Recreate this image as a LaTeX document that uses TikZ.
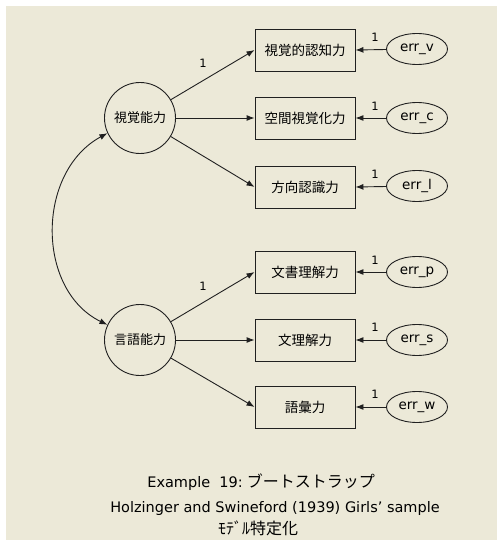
\documentclass[tikz,border=0pt]{standalone}
\usepackage{fontspec}
\setmainfont{DejaVu Sans}
\newfontfamily\jp{Noto Sans CJK JP}
\usetikzlibrary{shapes.geometric,arrows.meta}
\definecolor{bgc}{HTML}{ECE9D8}
\definecolor{ink}{HTML}{202020}
\tikzset{
  latent/.style={circle,draw=ink,line width=0.9pt,minimum size=71pt,inner sep=0pt,font=\jp\fontsize{13}{14}\selectfont},
  obs/.style={rectangle,draw=ink,line width=0.9pt,minimum width=100pt,minimum height=42pt,inner sep=0pt,font=\jp\fontsize{13.5}{14}\selectfont},
  err/.style={ellipse,draw=ink,line width=0.9pt,minimum width=61pt,minimum height=31pt,inner sep=0pt,font=\fontsize{13.5}{14}\selectfont},
  path/.style={draw=ink,line width=0.9pt,-{Latex[length=8pt,width=6pt]}},
  wt/.style={font=\fontsize{11.5}{12}\selectfont,inner sep=0pt},
  ttl/.style={font=\fontsize{14.5}{16}\selectfont,inner sep=0pt},
  ttljp/.style={font=\jp\fontsize{16}{18}\selectfont,inner sep=0pt}
}
\begin{document}
\begin{tikzpicture}[x=1pt,y=-1pt]
\fill[white] (0,0) rectangle (497,540);
\fill[bgc] (6,6) rectangle (497,540);
\useasboundingbox (0,0) rectangle (497,540);

\node[latent] (vis) at (140,118) {視覚能力};
\node[latent] (ver) at (140,340) {言語能力};

\node[obs] (o1) at (305,50) {視覚的認知力};
\node[obs] (o2) at (305,118) {空間視覚化力};
\node[obs] (o3) at (305,187) {方向認識力};
\node[obs] (o4) at (305,272) {文書理解力};
\node[obs] (o5) at (305,340) {文理解力};
\node[obs] (o6) at (305,407) {語彙力};

\node[err] (e1) at (417,49) {err\_v};
\node[err] (e2) at (417,118) {err\_c};
\node[err] (e3) at (417,186) {err\_l};
\node[err] (e4) at (417,272) {err\_p};
\node[err] (e5) at (417,340) {err\_s};
\node[err] (e6) at (417,407) {err\_w};

\foreach \o in {o1,o2,o3} \draw[path] (vis) -- (\o.west);
\foreach \o in {o4,o5,o6} \draw[path] (ver) -- (\o.west);
\foreach \i in {1,...,6} \draw[path] (e\i) -- (o\i.east);

\draw[draw=ink,line width=0.9pt,{Latex[length=8pt,width=6pt]}-{Latex[length=8pt,width=6pt]}]
  (vis.205) .. controls (36,172) and (36,290) .. (ver.155);

\node[wt] (w1) at (203,63) {1};
\node[wt] (w2) at (203,286) {1};
\node[wt] (w3) at (375,37) {1};
\node[wt] (w4) at (375,106) {1};
\node[wt] (w5) at (375,174) {1};
\node[wt] (w6) at (375,260) {1};
\node[wt] (w7) at (375,327) {1};
\node[wt] (w8) at (375,394) {1};

\node[ttl,anchor=base east] (t1) at (243,487) {Example\ \ 19:};
\node[ttljp,anchor=base west] (t1j) at (t1.base east) {\ ブートストラップ};
\node[ttl] (t2) at (275,508) {Holzinger and Swineford (1939) Girls’ sample};
\node[ttljp] (t3) at (258,528) {ﾓﾃﾞﾙ特定化};
\end{tikzpicture}
\end{document}
